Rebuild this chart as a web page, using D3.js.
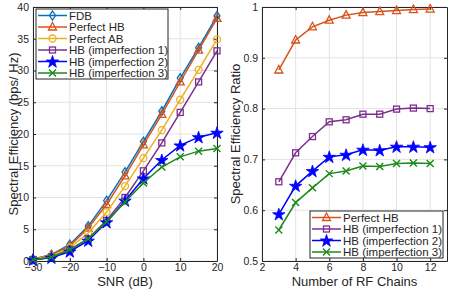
<!DOCTYPE html>
<html lang="en">
<head>
<meta charset="UTF-8">
<script src="https://d3js.org/d3.v7.min.js"></script>
<style>
  body { margin: 0; background: #fff; }
  text { font-family: "Liberation Sans", Arial, sans-serif; }
</style>
</head>
<body>
<svg id="chart" width="457" height="290"></svg>
<script>
// left panel: spectral efficiency vs SNR
const snr = [-30, -25, -20, -15, -10, -5, 0, 5, 10, 15, 20];
const seFDB      = [0.3, 1.0, 2.6, 5.5, 9.5, 14.0, 18.8, 23.6, 28.8, 33.6, 38.6];
const sePerfHB   = [0.3, 0.9, 2.4, 5.2, 8.9, 13.4, 18.3, 23.1, 28.2, 33.2, 38.2];
const sePerfAB   = [0.3, 0.8, 2.1, 4.4, 7.7, 11.8, 16.2, 20.6, 25.4, 30.1, 34.9];
const seImp1     = [0.2, 0.6, 1.8, 3.5, 6.4, 10.0, 14.2, 18.6, 23.4, 28.2, 33.1];
const seImp2     = [0.2, 0.5, 1.5, 3.2, 6.1, 9.5, 13.0, 15.9, 18.2, 19.5, 20.2];
const seImp3     = [0.2, 0.6, 1.8, 3.5, 6.2, 9.3, 12.3, 14.8, 16.4, 17.3, 17.7];

// right panel: ratio vs number of RF chains
const rfChains = [3, 4, 5, 6, 7, 8, 9, 10, 11, 12];
const ratioPerfHB = [0.876, 0.935, 0.961, 0.974, 0.984, 0.989, 0.991, 0.993, 0.995, 0.996];
const ratioImp1   = [0.656, 0.713, 0.745, 0.774, 0.778, 0.789, 0.789, 0.799, 0.801, 0.800];
const ratioImp2   = [0.592, 0.648, 0.677, 0.705, 0.709, 0.719, 0.718, 0.725, 0.725, 0.724];
const ratioImp3   = [0.561, 0.615, 0.644, 0.672, 0.677, 0.687, 0.686, 0.692, 0.693, 0.692];

const leftTicksX = [-30, -20, -10, 0, 10, 20];
const leftTicksY = [0, 5, 10, 15, 20, 25, 30, 35, 40];
const rightTicksX = [2, 4, 6, 8, 10, 12];
const rightTicksY = [0.5, 0.6, 0.7, 0.8, 0.9, 1];

const svg = d3.select("#chart");
const axisColor = "#262626";

const styles = {
  fdb:  { name: "FDB", color: "#0072BD", marker: "diamond" },
  phb:  { name: "Perfect HB", color: "#D95319", marker: "triangle" },
  pab:  { name: "Perfect AB", color: "#EDB120", marker: "circle" },
  imp1: { name: "HB (imperfection 1)", color: "#7E2F8E", marker: "square" },
  imp2: { name: "HB (imperfection 2)", color: "#0000FF", marker: "star" },
  imp3: { name: "HB (imperfection 3)", color: "#1A8A1A", marker: "cross" }
};

function drawMarker(g, type, x, y, color) {
  const s = 4;
  if (type === "diamond") {
    g.append("path").attr("d", `M${x},${y - s - 0.5}L${x + s - 1},${y}L${x},${y + s + 0.5}L${x - s + 1},${y}Z`)
      .attr("fill", "none").attr("stroke", color).attr("stroke-width", 1.3);
  } else if (type === "triangle") {
    g.append("path").attr("d", `M${x},${y - s - 0.5}L${x + s},${y + s - 1}L${x - s},${y + s - 1}Z`)
      .attr("fill", "none").attr("stroke", color).attr("stroke-width", 1.3);
  } else if (type === "circle") {
    g.append("circle").attr("cx", x).attr("cy", y).attr("r", s - 0.5)
      .attr("fill", "none").attr("stroke", color).attr("stroke-width", 1.3);
  } else if (type === "square") {
    g.append("rect").attr("x", x - s + 1).attr("y", y - s + 1).attr("width", 2 * s - 2).attr("height", 2 * s - 2)
      .attr("fill", "none").attr("stroke", color).attr("stroke-width", 1.3);
  } else if (type === "star") {
    g.append("path").attr("d", d3.symbol().type(d3.symbolStar).size(48)())
      .attr("transform", `translate(${x},${y + 0.5})`).attr("fill", color).attr("stroke", color).attr("stroke-width", 0.8);
  } else if (type === "cross") {
    g.append("path").attr("d", `M${x - s + 0.5},${y - s + 0.5}L${x + s - 0.5},${y + s - 0.5}M${x - s + 0.5},${y + s - 0.5}L${x + s - 0.5},${y - s + 0.5}`)
      .attr("fill", "none").attr("stroke", color).attr("stroke-width", 1.4);
  }
}

function drawPanel(opt) {
  const x = d3.scaleLinear().domain(opt.xDomain).range([opt.left, opt.right]);
  const y = d3.scaleLinear().domain(opt.yDomain).range([opt.bottom, opt.top]);
  const g = svg.append("g");

  // grid
  g.selectAll(".gx").data(opt.xTicks).enter().append("line")
    .attr("x1", d => x(d)).attr("x2", d => x(d)).attr("y1", opt.top).attr("y2", opt.bottom)
    .attr("stroke", "#e3e3e3").attr("stroke-width", 1);
  g.selectAll(".gy").data(opt.yTicks).enter().append("line")
    .attr("x1", opt.left).attr("x2", opt.right).attr("y1", d => y(d)).attr("y2", d => y(d))
    .attr("stroke", "#e3e3e3").attr("stroke-width", 1);

  // axes (ticks inside, box)
  const tl = 3;
  const axB = g.append("g").attr("transform", `translate(0,${opt.bottom})`)
    .call(d3.axisBottom(x).tickValues(opt.xTicks).tickSizeInner(-tl).tickSizeOuter(0).tickPadding(3).tickFormat(opt.xFmt));
  const axT = g.append("g").attr("transform", `translate(0,${opt.top})`)
    .call(d3.axisTop(x).tickValues(opt.xTicks).tickSizeInner(-tl).tickSizeOuter(0).tickFormat(""));
  const axL = g.append("g").attr("transform", `translate(${opt.left},0)`)
    .call(d3.axisLeft(y).tickValues(opt.yTicks).tickSizeInner(-tl).tickSizeOuter(0).tickPadding(4).tickFormat(opt.yFmt));
  const axR = g.append("g").attr("transform", `translate(${opt.right},0)`)
    .call(d3.axisRight(y).tickValues(opt.yTicks).tickSizeInner(-tl).tickSizeOuter(0).tickFormat(""));
  [axB, axT, axL, axR].forEach(a => {
    a.select(".domain").attr("stroke", axisColor).attr("stroke-width", 1);
    a.selectAll(".tick line").attr("stroke", axisColor);
    a.selectAll("text").attr("fill", axisColor).style("font-size", "10.5px")
      .style("font-family", "Liberation Sans, Arial, sans-serif");
  });

  // series
  opt.series.forEach(s => {
    const st = styles[s.key];
    const line = d3.line().x((d, i) => x(opt.xs[i])).y(d => y(d));
    g.append("path").datum(s.values).attr("d", line)
      .attr("fill", "none").attr("stroke", st.color).attr("stroke-width", 1.5);
    s.values.forEach((v, i) => drawMarker(g, st.marker, x(opt.xs[i]), y(v), st.color));
  });

  // labels
  svg.append("text").attr("x", (opt.left + opt.right) / 2).attr("y", 286)
    .attr("text-anchor", "middle").attr("fill", axisColor).style("font-size", "13px").text(opt.xLabel);
  svg.append("text").attr("transform", `translate(${opt.yLabelX},${(opt.top + opt.bottom) / 2}) rotate(-90)`)
    .attr("text-anchor", "middle").attr("fill", axisColor).style("font-size", "13px").text(opt.yLabel);

  // legend
  const lg = opt.legend;
  const lgG = svg.append("g");
  lgG.append("rect").attr("x", lg.x).attr("y", lg.y).attr("width", lg.w).attr("height", lg.h)
    .attr("fill", "#fff").attr("stroke", axisColor).attr("stroke-width", 1);
  opt.series.forEach((s, i) => {
    const st = styles[s.key];
    const cy = lg.y + 6.5 + i * lg.step;
    lgG.append("line").attr("x1", lg.x + 2).attr("x2", lg.x + 31).attr("y1", cy).attr("y2", cy)
      .attr("stroke", st.color).attr("stroke-width", 1.5);
    drawMarker(lgG, st.marker, lg.x + 16.5, cy, st.color);
    lgG.append("text").attr("x", lg.x + 33).attr("y", cy + 4).attr("fill", axisColor)
      .style("font-size", "11.5px").text(st.name);
  });
}

drawPanel({
  left: 33, right: 217, top: 7, bottom: 261,
  xDomain: [-30, 20], yDomain: [0, 40],
  xTicks: leftTicksX, yTicks: leftTicksY,
  xFmt: d3.format("d"), yFmt: d3.format("d"),
  xs: snr,
  series: [
    { key: "fdb", values: seFDB },
    { key: "phb", values: sePerfHB },
    { key: "pab", values: sePerfAB },
    { key: "imp1", values: seImp1 },
    { key: "imp2", values: seImp2 },
    { key: "imp3", values: seImp3 }
  ],
  xLabel: "SNR (dB)", yLabel: "Spectral Efficiency (bps/ Hz)", yLabelX: 18,
  legend: { x: 36, y: 9, w: 132, h: 70, step: 11.5 }
});

drawPanel({
  left: 262, right: 447, top: 7, bottom: 261,
  xDomain: [2, 13], yDomain: [0.5, 1],
  xTicks: rightTicksX, yTicks: rightTicksY,
  xFmt: d3.format("d"), yFmt: d => (d === 1 ? "1" : d3.format(".1f")(d)),
  xs: rfChains,
  series: [
    { key: "phb", values: ratioPerfHB },
    { key: "imp1", values: ratioImp1 },
    { key: "imp2", values: ratioImp2 },
    { key: "imp3", values: ratioImp3 }
  ],
  xLabel: "Number of RF Chains", yLabel: "Spectral Efficiency Ratio", yLabelX: 240,
  legend: { x: 310, y: 211, w: 133, h: 47, step: 11.5 }
});
</script>
</body>
</html>
